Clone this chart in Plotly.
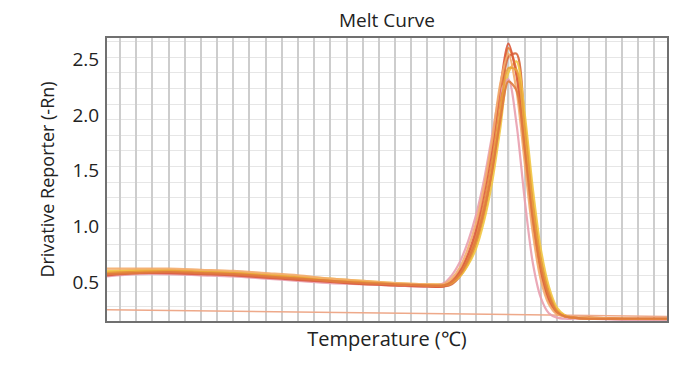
import plotly.graph_objects as go

# Temperature sample points (°C)
temperature = [60.2, 62, 64, 66, 68, 70, 72, 74, 76, 78, 80, 81, 81.5, 82, 82.5, 83,
               83.5, 84, 84.5, 85, 85.5, 86, 86.5, 87, 87.5, 88, 88.5, 89, 90, 92, 94.8]

well_a = [0.59, 0.60, 0.60, 0.59, 0.58, 0.56, 0.54, 0.52, 0.50, 0.48, 0.47, 0.47, 0.50, 0.58, 0.72, 0.92,
          1.22, 1.62, 2.15, 2.60, 2.40, 1.75, 1.08, 0.62, 0.36, 0.23, 0.19, 0.18, 0.18, 0.17, 0.17]
well_b = [0.57, 0.59, 0.59, 0.58, 0.57, 0.55, 0.53, 0.51, 0.49, 0.47, 0.46, 0.46, 0.48, 0.55, 0.66, 0.84,
          1.10, 1.48, 1.98, 2.52, 2.55, 1.95, 1.25, 0.72, 0.42, 0.25, 0.20, 0.18, 0.18, 0.17, 0.17]
well_c = [0.60, 0.61, 0.61, 0.60, 0.59, 0.57, 0.55, 0.53, 0.51, 0.49, 0.48, 0.48, 0.50, 0.55, 0.65, 0.80,
          1.05, 1.40, 1.88, 2.38, 2.48, 2.02, 1.35, 0.80, 0.46, 0.27, 0.20, 0.18, 0.17, 0.17, 0.16]
well_d = [0.55, 0.57, 0.57, 0.56, 0.55, 0.53, 0.51, 0.49, 0.48, 0.47, 0.46, 0.49, 0.56, 0.68, 0.86, 1.10,
          1.42, 1.82, 2.20, 2.32, 1.92, 1.25, 0.68, 0.36, 0.22, 0.18, 0.17, 0.17, 0.17, 0.16, 0.16]
well_e = [0.56, 0.58, 0.58, 0.57, 0.56, 0.54, 0.52, 0.50, 0.48, 0.47, 0.46, 0.46, 0.51, 0.60, 0.75, 0.97,
          1.30, 1.72, 2.25, 2.64, 2.35, 1.68, 1.02, 0.58, 0.33, 0.22, 0.19, 0.18, 0.17, 0.17, 0.17]
well_f = [0.62, 0.62, 0.62, 0.61, 0.60, 0.58, 0.56, 0.53, 0.51, 0.49, 0.48, 0.48, 0.53, 0.63, 0.80, 1.03,
          1.36, 1.78, 2.28, 2.55, 2.22, 1.58, 0.95, 0.52, 0.30, 0.21, 0.19, 0.18, 0.18, 0.17, 0.17]
well_g = [0.58, 0.59, 0.60, 0.59, 0.58, 0.56, 0.54, 0.51, 0.50, 0.48, 0.47, 0.47, 0.49, 0.56, 0.68, 0.86,
          1.14, 1.52, 2.02, 2.42, 2.40, 1.88, 1.20, 0.70, 0.40, 0.24, 0.19, 0.18, 0.17, 0.17, 0.17]
well_h = [0.57, 0.58, 0.59, 0.58, 0.57, 0.55, 0.53, 0.51, 0.49, 0.48, 0.47, 0.47, 0.50, 0.57, 0.70, 0.88,
          1.15, 1.50, 1.95, 2.30, 2.22, 1.70, 1.08, 0.63, 0.37, 0.23, 0.19, 0.18, 0.17, 0.17, 0.17]

ntc_temperature = [60.2, 70, 80, 90, 94.8]
ntc_values = [0.25, 0.235, 0.22, 0.20, 0.19]

well_series = [well_a, well_b, well_c, well_d, well_e, well_f, well_g, well_h]
well_colors = ["#e8883a", "#d8663a", "#f2c744", "#e9a0b0", "#dc5a3c", "#f4ac6c", "#e9a23a", "#e07a40"]

y_tick_values = [0.5, 1.0, 1.5, 2.0, 2.5]
y_tick_labels = ["0.5", "1.0", "1.5", "2.0", "2.5"]
tm_marker = 85
chart_title = "Melt Curve"

fig = go.Figure()

fig.add_trace(go.Scatter(x=ntc_temperature, y=ntc_values, mode="lines",
                         line=dict(color="#eea98a", width=1.5), showlegend=False))

for vals, col in zip(well_series, well_colors):
    fig.add_trace(go.Scatter(x=temperature, y=vals, mode="lines",
                             line=dict(color=col, width=2.2, shape="spline", smoothing=0.8),
                             opacity=0.9, showlegend=False))

fig.add_vline(x=tm_marker, line=dict(color="#9a9a9a", width=1.5), layer="below")

font_family = "Open Sans, Lato, sans-serif"

fig.add_annotation(text=chart_title, x=0.5, xref="paper", xanchor="center",
                   y=1, yref="paper", yanchor="bottom", yshift=3, showarrow=False,
                   font=dict(family=font_family, size=19, color="#222222"))

fig.update_layout(
    width=681, height=362,
    margin=dict(l=99, r=22, t=30, b=49),
    paper_bgcolor="white", plot_bgcolor="white",
    font=dict(family=font_family, color="#222222"),
    xaxis=dict(range=[60.2, 94.8], dtick=1, tick0=60, showticklabels=False,
               showgrid=True, gridcolor="#cdcdcd", gridwidth=1.5,
               zeroline=False, showline=True, linecolor="#707070", linewidth=2, mirror=True,
               ticks="",
               title=dict(text="Temperature (℃)", standoff=10,
                          font=dict(family=font_family, size=20, color="#222222"))),
    yaxis=dict(range=[0.15, 2.69], tickvals=y_tick_values, ticktext=y_tick_labels,
               showgrid=False, zeroline=False, showline=True, linecolor="#707070",
               linewidth=2, mirror=True, ticks="", ticklabelstandoff=2,
               tickfont=dict(family=font_family, size=19, color="#222222"),
               minor=dict(dtick=0.14, tick0=0.276, showgrid=True, gridcolor="#e6e6e6", gridwidth=1),
               title=dict(text="Drivative Reporter (-Rn)", standoff=13,
                          font=dict(family=font_family, size=18, color="#222222"))),
)

fig.write_html("out.html")
